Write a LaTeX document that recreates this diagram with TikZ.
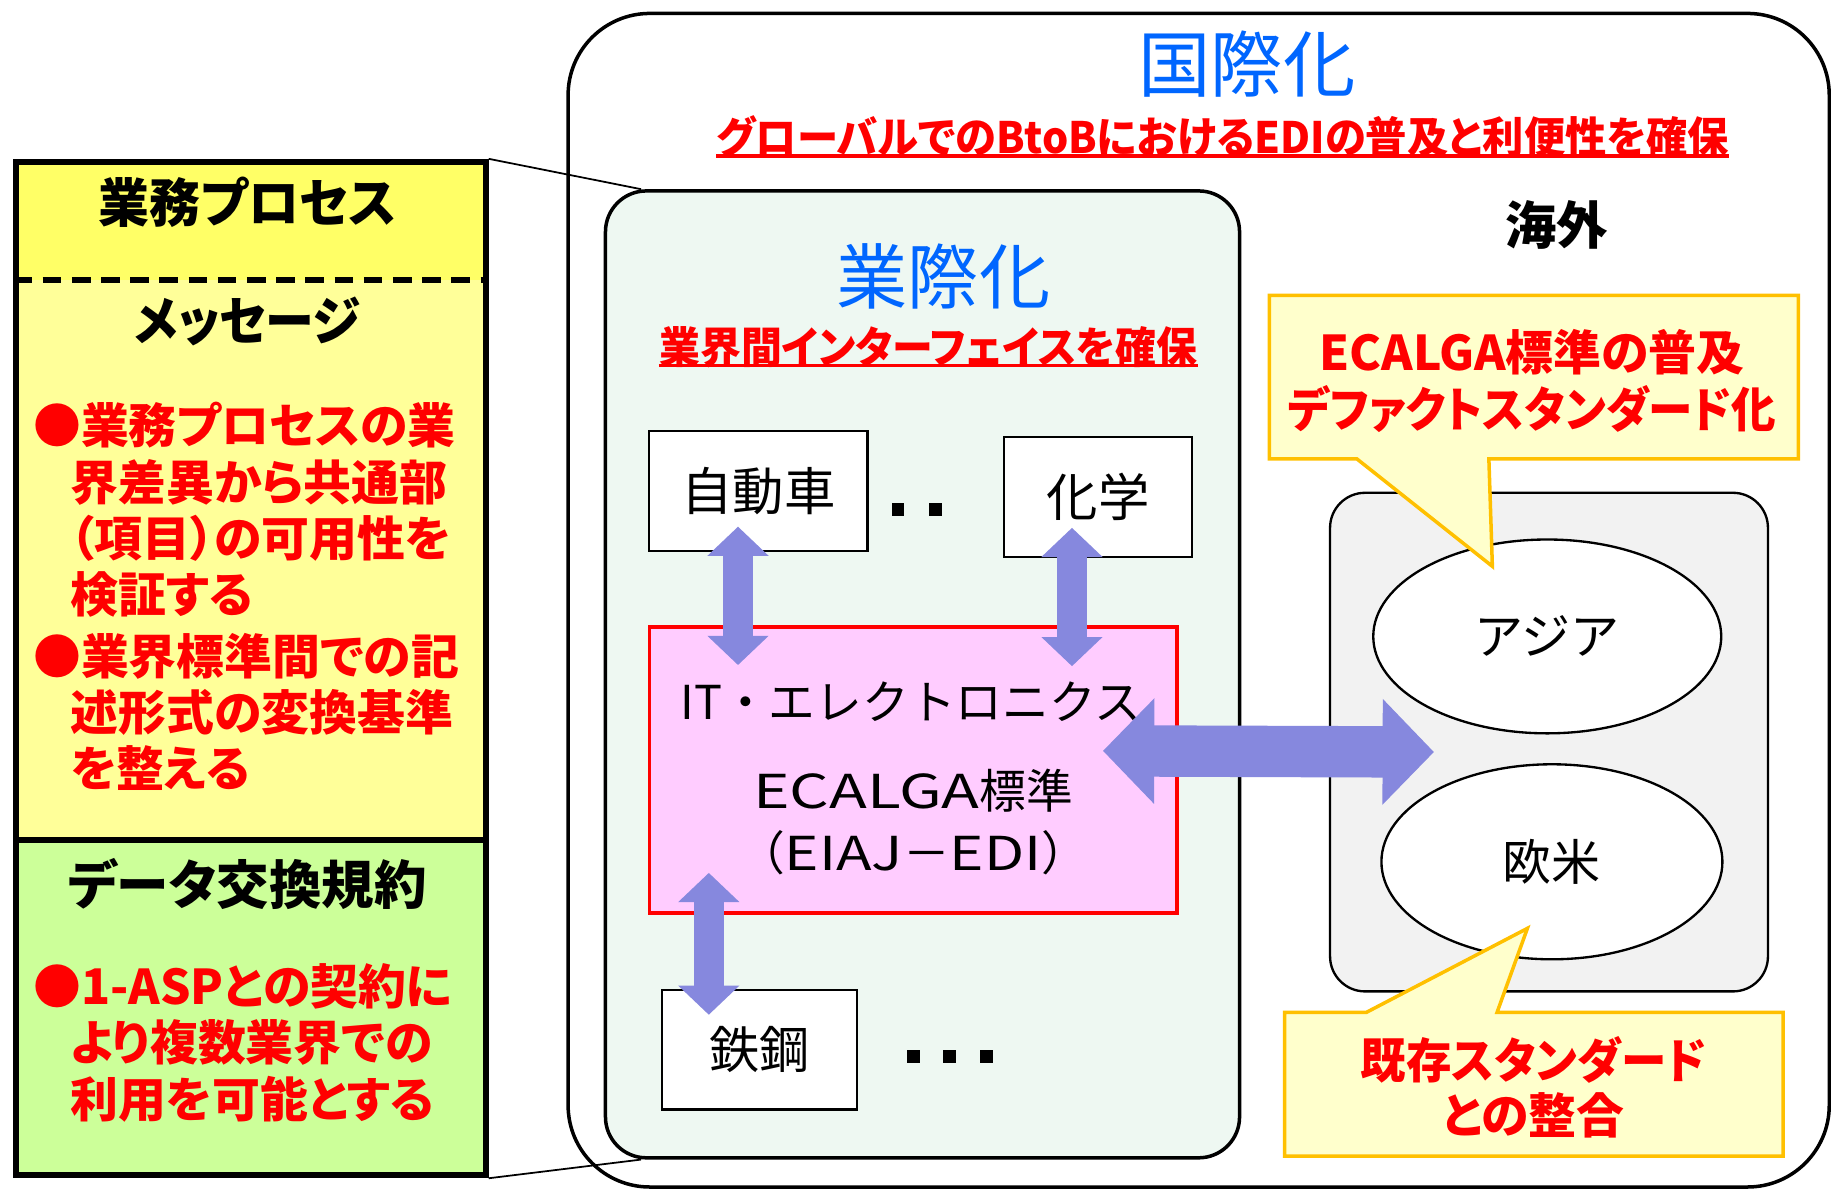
\documentclass[tikz,border=0pt]{standalone}
\usepackage{graphicx}
\usepackage{fontspec}
\setmainfont{Noto Sans CJK JP}
\newfontfamily\jpp[Script=CJK,RawFeature=+palt]{Noto Sans CJK JP}
\usetikzlibrary{arrows.meta,shapes.geometric}
\definecolor{hdrY}{RGB}{255,255,102}
\definecolor{msgY}{RGB}{255,255,153}
\definecolor{datG}{RGB}{204,255,153}
\definecolor{ttlB}{RGB}{0,102,255}
\definecolor{arrB}{RGB}{134,136,222}
\definecolor{panG}{RGB}{238,248,242}
\definecolor{pinkF}{RGB}{255,204,255}
\definecolor{callF}{RGB}{255,255,204}
\definecolor{callD}{RGB}{255,192,0}
\definecolor{grayF}{RGB}{242,242,242}
\newcommand\fsz[1]{\fontsize{#1}{#1}\selectfont}
\newcommand\hsq[2]{\scalebox{#1}[1]{#2}}
\begin{document}
\begin{tikzpicture}[x=0.5pt,y=-0.5pt,
  txt/.style={inner sep=0pt},
  hd/.style={txt,font=\jpp\bfseries\fsz{22.5}},
  rl/.style={txt,anchor=west,text=red,font=\jpp\bfseries\fsz{20.5}},
  ttl/.style={txt,text=ttlB,font=\fsz{31}},
  subt/.style={txt,text=red,font=\jpp\bfseries\fsz{18.5}},
  ulin/.style={red,line width=1.5pt},
  ibox/.style={draw,line width=1pt,fill=white,inner sep=0pt},
  ptxt/.style={txt,font=\fsz{20}},
  ctx/.style={txt,text=red,font=\jpp\bfseries\fsz{20.5}},
  sqdot/.style={fill=black,minimum size=5.5pt,inner sep=0pt},
  varr/.style={arrB,line width=13pt,{Triangle[length=12.5pt,width=25.5pt]}-{Triangle[length=12.5pt,width=25.5pt]}},
  harr/.style={arrB,line width=22pt,{Triangle[length=22pt,width=44pt]}-{Triangle[length=22pt,width=44pt]}},
  callout/.style={draw=callD,fill=callF,line width=1.5pt}
]
\useasboundingbox (0,0) rectangle (1568,1017.4);
% ---------- left panel ----------
\fill[hdrY] (11.5,136) rectangle (413.5,240);
\fill[msgY] (11.5,240) rectangle (413.5,719);
\fill[datG] (11.5,719) rectangle (413.5,1004);
\draw[line width=2.5pt,dash pattern=on 8pt off 4.5pt] (11.5,240) -- (413.5,240);
\draw[line width=2.5pt] (11.5,719) -- (413.5,719);
\node[draw,line width=2.5pt,minimum width=201pt,minimum height=434pt,inner sep=0pt,anchor=north west] (lp) at (11.5,136) {};
\node[hd] (bp) at (212,173) {\hsq{0.97}{業務プロセス}};
\node[hd] (msg) at (212,275) {\hsq{0.93}{メッセージ}};
\node[hd] (dx) at (212,757) {データ交換規約};
\node[rl] (r1) at (28,364) {●業務プロセスの業};
\node[rl] (r2) at (60,413) {界差異から共通部};
\node[rl] (r3) at (60,461) {（項目）の可用性を};
\node[rl] (r4) at (60,509) {検証する};
\node[rl] (r5) at (28,562) {●業界標準間での記};
\node[rl] (r6) at (60,610) {述形式の変換基準};
\node[rl] (r7) at (60,658) {を整える};
\node[rl] (r8) at (28,845) {●1-ASPとの契約に};
\node[rl] (r9) at (60,893) {より複数業界での};
\node[rl] (r10) at (60,941) {利用を可能とする};
% ---------- outer box ----------
\node[draw,line width=1.5pt,rounded corners=35pt,minimum width=540pt,minimum height=502.5pt,inner sep=0pt,anchor=north west] (ob) at (485,10) {};
\node[ttl] (intl) at (1068,55) {国際化};
\node[subt] (glob) at (1047,117) {\hsq{0.955}{グローバルでのBtoBにおけるEDIの普及と利便性を確保}};
\draw[ulin] ([yshift=1pt]glob.south west) -- ([yshift=1pt]glob.south east);
% ---------- industry panel ----------
\node[draw,line width=1.5pt,fill=panG,rounded corners=17.5pt,minimum width=271.5pt,minimum height=414pt,inner sep=0pt,anchor=north west] (gp) at (517,162) {};
\draw[line width=0.75pt] (lp.north east) -- ([xshift=16pt]gp.north west);
\draw[line width=0.75pt] (lp.south east) -- ([xshift=16pt]gp.south west);
\node[ttl,font=\fsz{30.5}] (ind) at (808,237) {業際化};
\node[subt] (indsub) at (795,297) {\hsq{0.946}{業界間インターフェイスを確保}};
\draw[ulin] ([yshift=1pt]indsub.south west) -- ([yshift=1pt]indsub.south east);
\node[ibox,minimum width=93.5pt,minimum height=51.5pt,font=\fsz{22}] (car) at (649.5,420.5) {自動車};
\node[ibox,minimum width=80.5pt,minimum height=51.5pt,font=\fsz{22}] (chem) at (940.5,425.5) {化学};
\node[ibox,minimum width=83.5pt,minimum height=51pt,font=\fsz{21.5}] (steel) at (650.5,899) {鉄鋼};
\node[draw=red,line width=1.5pt,fill=pinkF,minimum width=226pt,minimum height=122.5pt,inner sep=0pt] (ec) at (782,659.5) {};
\node[ptxt] (ite) at (780,601) {IT・エレクトロニクス};
\node[ptxt] (ecs) at (782,677) {\hsq{1.33}{ECALGA}標準};
\node[ptxt] (eiaj) at (782,730) {（\hsq{1.25}{EIAJ}－\hsq{1.25}{EDI}）};
\node[sqdot] (d1) at (769,436) {};
\node[sqdot] (d2) at (801,436) {};
\node[sqdot] (d3) at (782,905) {};
\node[sqdot] (d4) at (813,905) {};
\node[sqdot] (d5) at (845,905) {};
\draw[varr] ([xshift=-8.75pt,yshift=11pt]car.south) -- ([xshift=-75pt,yshift=-17pt]ec.north);
\draw[varr] ([xshift=-11.25pt,yshift=13pt]chem.south) -- ([xshift=68pt,yshift=-17.5pt]ec.north);
\draw[varr] ([xshift=-87.5pt,yshift=18pt]ec.south) -- ([xshift=-21.75pt,yshift=-11pt]steel.north);
% ---------- overseas ----------
\node[txt,font=\jpp\bfseries\fsz{22}] (kaigai) at (1333,193) {海外};
\node[draw,line width=1pt,fill=grayF,rounded corners=15pt,minimum width=187.5pt,minimum height=213.5pt,inner sep=0pt,anchor=north west] (gray) at (1138,421) {};
\node[ellipse,draw,line width=1pt,fill=white,minimum width=149pt,minimum height=83pt,inner sep=0pt,font=\fsz{21}] (asia) at (1325,545) {アジア};
\node[ellipse,draw,line width=1pt,fill=white,minimum width=146pt,minimum height=83.5pt,inner sep=0pt,font=\fsz{21}] (euro) at (1329,738) {欧米};
\draw[harr] ([xshift=-32.5pt,yshift=8.25pt]ec.east) -- ([xshift=45pt,yshift=-4.25pt]gray.west);
% ---------- callouts ----------
\draw[callout] (1087,253) -- (1540,253) -- (1540,393) -- (1275,393) -- (1278,485) -- (1162,393) -- (1087,393) -- cycle;
\node[ctx] (c1a) at (1312,302) {ECALGA標準の普及};
\node[ctx] (c1b) at (1312,350) {\hsq{0.93}{デファクトスタンダード化}};
\draw[callout] (1100,867) -- (1170,867) -- (1308,795) -- (1282,867) -- (1527,867) -- (1527,990) -- (1100,990) -- cycle;
\node[ctx] (c2a) at (1313,908) {\hsq{0.95}{既存スタンダード}};
\node[ctx] (c2b) at (1313,955) {との整合};
\end{tikzpicture}
\end{document}
